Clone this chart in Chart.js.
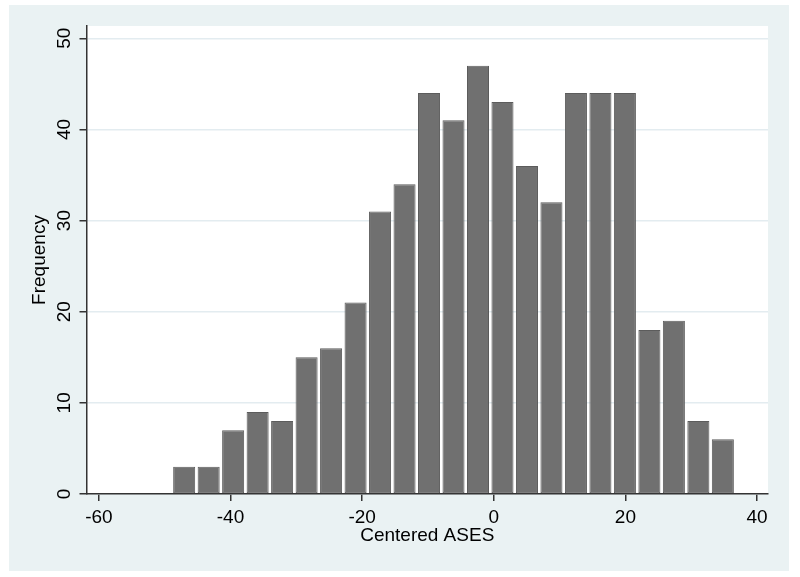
<!DOCTYPE html>
<html>
<head>
<meta charset="utf-8">
<script src="https://cdn.jsdelivr.net/npm/chart.js@4.4.1/dist/chart.umd.min.js"></script>
<style>
    body { margin: 0; background: #ffffff; }
    #wrap { width: 800px; height: 577px; position: relative; }
</style>
</head>
<body>
<div id="wrap"><canvas id="hist"></canvas></div>
<script>
// bin midpoints of the histogram (Centered ASES)
const binCenters = [-47.04, -43.32, -39.60, -35.88, -32.16, -28.44, -24.72, -21.00, -17.28, -13.56,
    -9.84, -6.12, -2.40, 1.32, 5.04, 8.76, 12.48, 16.20, 19.92, 23.64, 27.36, 31.08, 34.80];
const frequencies = [3, 3, 7, 9, 8, 15, 16, 21, 31, 34, 44, 41, 47, 43, 36, 32, 44, 44, 44, 18, 19, 8, 6];
const xTicks = [-60, -40, -20, 0, 20, 40];
const yTicks = [0, 10, 20, 30, 40, 50];

const FONT = "'Liberation Sans', Arial, sans-serif";

const panelBg = {
    id: "panelBg",
    beforeDraw(chart) {
        const ctx = chart.ctx;
        const a = chart.chartArea;
        ctx.save();
        ctx.fillStyle = "#ffffff";
        ctx.fillRect(0, 0, chart.width, chart.height);
        ctx.fillStyle = "#eaf2f3";
        ctx.fillRect(9, 5, 780, 566);
        ctx.fillStyle = "#ffffff";
        ctx.fillRect(a.left, a.top, a.right - a.left, a.bottom - a.top);
        ctx.restore();
    }
};

// stata draws the y tick labels turned on their side
const sideLabels = {
    id: "sideLabels",
    afterDraw(chart) {
        const ctx = chart.ctx;
        const y = chart.scales.y;
        ctx.save();
        ctx.fillStyle = "#000000";
        ctx.font = "19px " + FONT;
        ctx.textAlign = "center";
        ctx.textBaseline = "alphabetic";
        y.ticks.forEach(t => {
            const py = y.getPixelForValue(t.value);
            ctx.save();
            ctx.translate(70, py);
            ctx.rotate(-Math.PI / 2);
            ctx.fillText(String(t.value), 0, 0);
            ctx.restore();
        });
        ctx.restore();
    }
};

new Chart(document.getElementById("hist").getContext("2d"), {
    type: "bar",
    data: {
        datasets: [{
            label: "Frequency",
            data: binCenters.map((c, i) => ({ x: c, y: frequencies[i] })),
            backgroundColor: "#707070",
            borderColor: "#5c5c5c",
            borderWidth: 1,
            borderSkipped: false,
            barPercentage: 0.9,
            categoryPercentage: 1
        }]
    },
    options: {
        responsive: true,
        maintainAspectRatio: false,
        animation: false,
        layout: { padding: { left: 0, top: 26, right: 32, bottom: 0 } },
        plugins: {
            legend: { display: false },
            tooltip: { enabled: false }
        },
        scales: {
            x: {
                type: "linear",
                offset: false,
                min: -61.88,
                max: 41.66,
                afterBuildTicks: s => { s.ticks = xTicks.map(v => ({ value: v })); },
                afterFit: s => { s.height = 83; },
                grid: { offset: false, drawOnChartArea: false, tickLength: 7, tickColor: "#333333", lineWidth: 1.5 },
                border: { display: true, color: "#333333", width: 1.5 },
                ticks: { color: "#000000", font: { size: 19, family: FONT }, padding: 5, maxRotation: 0 },
                title: {
                    display: true,
                    text: "Centered ASES",
                    color: "#000000",
                    font: { size: 19, family: FONT },
                    padding: { top: 0, bottom: 30 }
                }
            },
            y: {
                min: 0,
                max: 51.35,
                afterBuildTicks: s => { s.ticks = yTicks.map(v => ({ value: v })); },
                afterFit: s => { s.width = 86.5; },
                grid: { color: "#e3ecf0", lineWidth: 1.5, tickLength: 7, tickColor: "#333333" },
                border: { display: true, color: "#333333", width: 1.5 },
                ticks: { display: false },
                title: {
                    display: true,
                    text: "Frequency",
                    color: "#000000",
                    font: { size: 19, family: FONT },
                    padding: { top: 28, bottom: 0 }
                }
            }
        }
    },
    plugins: [panelBg, sideLabels]
});
</script>
</body>
</html>
